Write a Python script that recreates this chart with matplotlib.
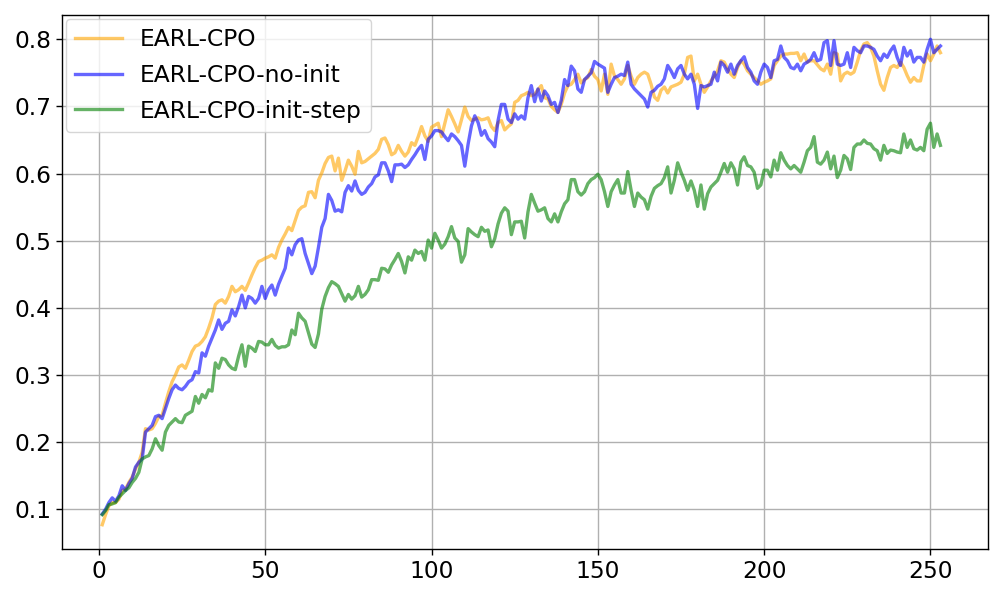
import matplotlib
matplotlib.use("Agg")
import matplotlib.pyplot as plt

steps = list(range(1, 254))

earl_cpo = [
    0.077, 0.092, 0.105, 0.110, 0.110, 0.115, 0.128, 0.130, 0.140, 0.148,
    0.160, 0.170, 0.185, 0.220, 0.218, 0.220, 0.228, 0.238, 0.240, 0.258,
    0.275, 0.290, 0.300, 0.312, 0.315, 0.310, 0.322, 0.335, 0.343, 0.345,
    0.350, 0.357, 0.370, 0.385, 0.405, 0.410, 0.412, 0.407, 0.417, 0.432,
    0.424, 0.427, 0.432, 0.426, 0.437, 0.449, 0.460, 0.469, 0.471, 0.474,
    0.476, 0.479, 0.474, 0.490, 0.501, 0.510, 0.520, 0.515, 0.530, 0.545,
    0.550, 0.552, 0.572, 0.573, 0.564, 0.590, 0.601, 0.615, 0.624, 0.626,
    0.604, 0.623, 0.590, 0.604, 0.620, 0.611, 0.599, 0.633, 0.616, 0.618,
    0.622, 0.626, 0.630, 0.636, 0.651, 0.653, 0.643, 0.628, 0.631, 0.642,
    0.633, 0.626, 0.632, 0.646, 0.642, 0.655, 0.670, 0.656, 0.648, 0.669,
    0.672, 0.675, 0.655, 0.675, 0.695, 0.685, 0.674, 0.662, 0.680, 0.699,
    0.685, 0.679, 0.681, 0.683, 0.680, 0.681, 0.683, 0.670, 0.664, 0.676,
    0.679, 0.665, 0.670, 0.674, 0.706, 0.709, 0.716, 0.718, 0.721, 0.716,
    0.718, 0.725, 0.731, 0.713, 0.711, 0.700, 0.695, 0.691, 0.703, 0.720,
    0.731, 0.733, 0.740, 0.748, 0.735, 0.740, 0.743, 0.755, 0.745, 0.740,
    0.723, 0.748, 0.718, 0.763, 0.745, 0.740, 0.733, 0.741, 0.761, 0.745,
    0.733, 0.743, 0.748, 0.751, 0.748, 0.733, 0.714, 0.709, 0.724, 0.729,
    0.720, 0.729, 0.731, 0.733, 0.736, 0.748, 0.773, 0.775, 0.738, 0.748,
    0.733, 0.721, 0.729, 0.738, 0.745, 0.753, 0.768, 0.766, 0.756, 0.748,
    0.743, 0.758, 0.768, 0.763, 0.753, 0.748, 0.743, 0.738, 0.733, 0.736,
    0.738, 0.741, 0.761, 0.768, 0.775, 0.778, 0.778, 0.779, 0.779, 0.780,
    0.768, 0.778, 0.766, 0.768, 0.768, 0.762, 0.756, 0.753, 0.763, 0.748,
    0.780, 0.778, 0.738, 0.748, 0.751, 0.748, 0.751, 0.766, 0.783, 0.793,
    0.795, 0.788, 0.775, 0.753, 0.733, 0.724, 0.743, 0.758, 0.761, 0.758,
    0.766, 0.758, 0.746, 0.736, 0.743, 0.738, 0.738, 0.761, 0.778, 0.768,
    0.778, 0.790, 0.780,
]

earl_cpo_no_init = [
    0.093, 0.100, 0.110, 0.117, 0.112, 0.120, 0.135, 0.128, 0.138, 0.146,
    0.163, 0.170, 0.175, 0.215, 0.220, 0.225, 0.238, 0.240, 0.235, 0.250,
    0.265, 0.278, 0.285, 0.280, 0.278, 0.283, 0.290, 0.293, 0.305, 0.303,
    0.333, 0.328, 0.343, 0.355, 0.367, 0.382, 0.368, 0.377, 0.380, 0.397,
    0.388, 0.402, 0.419, 0.400, 0.417, 0.414, 0.407, 0.414, 0.432, 0.414,
    0.427, 0.434, 0.419, 0.435, 0.447, 0.459, 0.489, 0.479, 0.494, 0.501,
    0.503, 0.481, 0.466, 0.451, 0.462, 0.490, 0.520, 0.533, 0.569, 0.560,
    0.544, 0.546, 0.543, 0.572, 0.582, 0.574, 0.589, 0.575, 0.569, 0.572,
    0.580, 0.585, 0.595, 0.598, 0.616, 0.616, 0.604, 0.588, 0.613, 0.613,
    0.614, 0.609, 0.613, 0.621, 0.628, 0.636, 0.642, 0.621, 0.651, 0.656,
    0.664, 0.664, 0.662, 0.655, 0.649, 0.659, 0.655, 0.649, 0.642, 0.611,
    0.644, 0.671, 0.686, 0.676, 0.657, 0.664, 0.652, 0.647, 0.640, 0.679,
    0.703, 0.703, 0.681, 0.676, 0.689, 0.681, 0.686, 0.681, 0.713, 0.731,
    0.707, 0.726, 0.708, 0.723, 0.716, 0.703, 0.706, 0.691, 0.709, 0.740,
    0.731, 0.760, 0.753, 0.726, 0.721, 0.740, 0.745, 0.750, 0.767, 0.763,
    0.760, 0.757, 0.721, 0.733, 0.743, 0.745, 0.748, 0.746, 0.766, 0.733,
    0.726, 0.721, 0.716, 0.711, 0.699, 0.721, 0.724, 0.730, 0.733, 0.741,
    0.761, 0.753, 0.743, 0.756, 0.761, 0.748, 0.741, 0.748, 0.733, 0.697,
    0.731, 0.729, 0.731, 0.733, 0.751, 0.738, 0.766, 0.761, 0.751, 0.763,
    0.748, 0.761, 0.768, 0.774, 0.758, 0.751, 0.738, 0.733, 0.751, 0.763,
    0.758, 0.743, 0.768, 0.770, 0.790, 0.773, 0.768, 0.758, 0.756, 0.763,
    0.753, 0.763, 0.766, 0.770, 0.780, 0.768, 0.770, 0.795, 0.798, 0.761,
    0.798, 0.763, 0.761, 0.763, 0.780, 0.758, 0.788, 0.783, 0.780, 0.790,
    0.790, 0.788, 0.785, 0.775, 0.768, 0.778, 0.773, 0.783, 0.790, 0.773,
    0.761, 0.788, 0.775, 0.783, 0.766, 0.773, 0.773, 0.766, 0.785, 0.800,
    0.780, 0.785, 0.790,
]

earl_cpo_init_step = [
    0.092, 0.098, 0.107, 0.108, 0.110, 0.118, 0.123, 0.128, 0.132, 0.140,
    0.146, 0.155, 0.175, 0.178, 0.180, 0.190, 0.205, 0.195, 0.188, 0.215,
    0.225, 0.230, 0.235, 0.230, 0.229, 0.240, 0.243, 0.246, 0.268, 0.258,
    0.271, 0.266, 0.278, 0.276, 0.318, 0.310, 0.325, 0.323, 0.315, 0.310,
    0.308, 0.328, 0.345, 0.313, 0.343, 0.340, 0.335, 0.350, 0.349, 0.345,
    0.345, 0.353, 0.344, 0.340, 0.342, 0.342, 0.345, 0.367, 0.360, 0.392,
    0.385, 0.380, 0.363, 0.346, 0.341, 0.361, 0.398, 0.417, 0.430, 0.439,
    0.436, 0.432, 0.421, 0.410, 0.420, 0.413, 0.418, 0.432, 0.416, 0.420,
    0.427, 0.442, 0.442, 0.441, 0.459, 0.458, 0.453, 0.464, 0.472, 0.481,
    0.469, 0.452, 0.476, 0.471, 0.486, 0.481, 0.484, 0.471, 0.501, 0.489,
    0.511, 0.501, 0.489, 0.495, 0.506, 0.521, 0.504, 0.499, 0.468, 0.479,
    0.518, 0.513, 0.509, 0.506, 0.520, 0.514, 0.516, 0.491, 0.503, 0.525,
    0.541, 0.549, 0.544, 0.509, 0.528, 0.528, 0.529, 0.504, 0.543, 0.569,
    0.556, 0.544, 0.546, 0.549, 0.533, 0.528, 0.540, 0.528, 0.543, 0.555,
    0.561, 0.591, 0.591, 0.573, 0.568, 0.573, 0.585, 0.591, 0.594, 0.599,
    0.591, 0.573, 0.551, 0.573, 0.583, 0.591, 0.571, 0.571, 0.603, 0.575,
    0.551, 0.571, 0.565, 0.561, 0.547, 0.566, 0.578, 0.582, 0.585, 0.594,
    0.610, 0.571, 0.590, 0.616, 0.602, 0.590, 0.575, 0.589, 0.575, 0.551,
    0.583, 0.547, 0.570, 0.580, 0.585, 0.590, 0.602, 0.615, 0.602, 0.616,
    0.607, 0.583, 0.617, 0.625, 0.612, 0.610, 0.602, 0.578, 0.583, 0.605,
    0.605, 0.595, 0.620, 0.605, 0.631, 0.620, 0.612, 0.607, 0.612, 0.607,
    0.602, 0.617, 0.634, 0.639, 0.655, 0.617, 0.614, 0.620, 0.632, 0.607,
    0.626, 0.594, 0.605, 0.627, 0.622, 0.606, 0.639, 0.644, 0.644, 0.650,
    0.645, 0.644, 0.637, 0.634, 0.620, 0.642, 0.630, 0.635, 0.634, 0.632,
    0.631, 0.659, 0.639, 0.650, 0.637, 0.635, 0.639, 0.634, 0.666, 0.675,
    0.639, 0.659, 0.642,
]

series_labels = ["EARL-CPO", "EARL-CPO-no-init", "EARL-CPO-init-step"]
series_colors = ["orange", "blue", "green"]

fig = plt.figure(figsize=(9.97, 5.98), dpi=100)
ax = fig.add_axes([62 / 997, 1 - 549 / 598, (988 - 62) / 997, (549 - 15) / 598])

for vals, lab, col in zip([earl_cpo, earl_cpo_no_init, earl_cpo_init_step],
                          series_labels, series_colors):
    ax.plot(steps, vals, color=col, alpha=0.6, linewidth=2.4, label=lab)

ax.set_xlim(-11.1, 267.3)
ax.grid(True, color="#b0b0b0", linewidth=1.0)
ax.tick_params(labelsize=16.8, length=4.2, width=1.0)
for s in ax.spines.values():
    s.set_linewidth(1.0)
ax.legend(loc="upper left", fontsize=16.8, borderaxespad=0.15,
          labelspacing=0.55)

fig.savefig("out.png", dpi=100)
